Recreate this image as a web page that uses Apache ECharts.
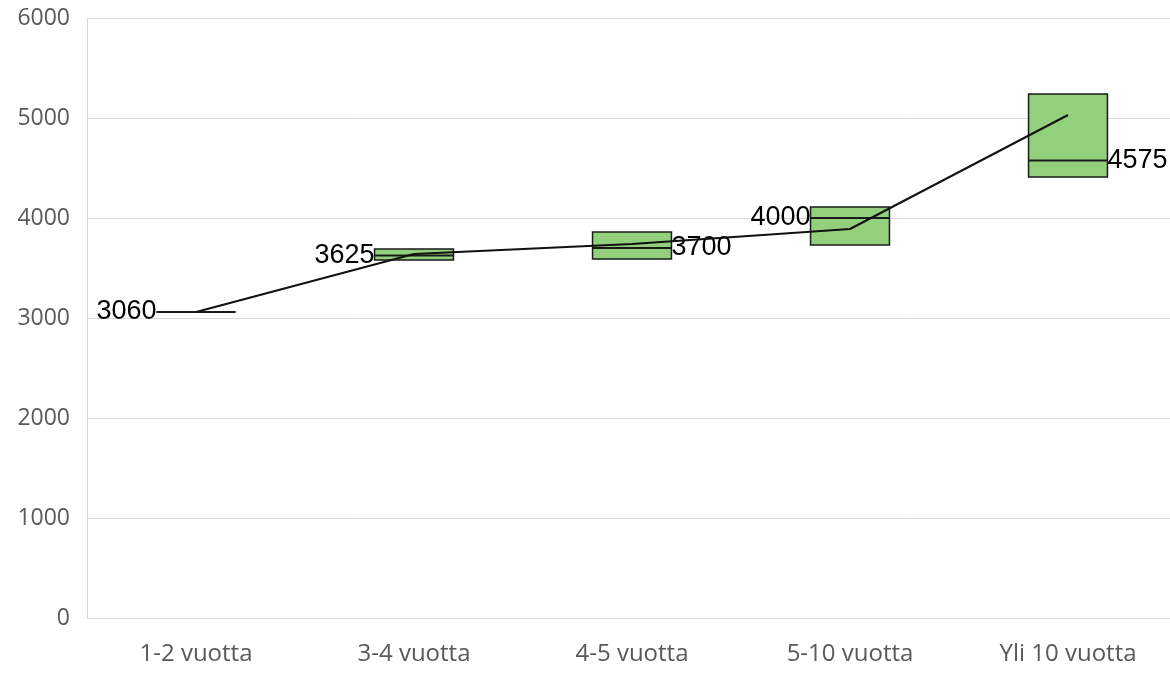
<!DOCTYPE html>
<html>
<head>
<meta charset="utf-8">
<script src="https://cdn.jsdelivr.net/npm/echarts@6/dist/echarts.min.js"></script>
<style>html,body{margin:0;padding:0;background:#fff;overflow:hidden}#c{width:1177px;height:673px}</style>
</head>
<body>
<div id="c"></div>
<script>
const categories = ['1-2 vuotta', '3-4 vuotta', '4-5 vuotta', '5-10 vuotta', 'Yli 10 vuotta'];
const q1Values = [3060, 3580, 3590, 3730, 4410];
const medianValues = [3060, 3625, 3700, 4000, 4575];
const q3Values = [3060, 3690, 3860, 4110, 5240];
const meanValues = [3060, 3640, 3740, 3890, 5030];
const yTicks = [0, 1000, 2000, 3000, 4000, 5000, 6000];

const labelSide = ['left', 'left', 'right', 'left', 'right'];

const boxData = categories.map((c, i) => [i, q1Values[i], medianValues[i], q3Values[i]]);

const chart = echarts.init(document.getElementById('c'));
chart.setOption({
  animation: false,
  grid: { left: 87, right: 0, top: 18, bottom: 55 },
  xAxis: {
    type: 'category',
    data: categories,
    axisLine: { show: true, lineStyle: { color: '#d9d9d9', width: 1 } },
    axisTick: { show: false },
    axisLabel: { color: '#595959', fontSize: 24, fontFamily: 'Open Sans', margin: 24 }
  },
  yAxis: {
    type: 'value',
    min: yTicks[0],
    max: yTicks[yTicks.length - 1],
    interval: 1000,
    axisLine: { show: true, lineStyle: { color: '#d9d9d9', width: 1 } },
    axisTick: { show: false },
    splitLine: { lineStyle: { color: '#d9d9d9', width: 1 } },
    axisLabel: { color: '#595959', fontSize: 23, fontFamily: 'Open Sans', margin: 17, formatter: v => String(v) }
  },
  series: [
    {
      type: 'custom',
      data: boxData,
      z: 2,
      renderItem: function (params, api) {
        const i = api.value(0);
        const pQ1 = api.coord([i, api.value(1)]);
        const pMed = api.coord([i, api.value(2)]);
        const pQ3 = api.coord([i, api.value(3)]);
        const w = api.size([1, 0])[0] * 0.362;
        const x0 = pMed[0] - w / 2;
        const side = labelSide[params.dataIndex];
        const children = [
          {
            type: 'rect',
            shape: { x: x0, y: pQ3[1], width: w, height: pQ1[1] - pQ3[1] },
            style: { fill: '#93d07c', stroke: '#1a1a1a', lineWidth: 1.5 }
          },
          {
            type: 'line',
            shape: { x1: x0, y1: pMed[1], x2: x0 + w, y2: pMed[1] },
            style: { stroke: '#1a1a1a', lineWidth: 1.8 }
          },
          {
            type: 'text',
            style: {
              x: side === 'left' ? x0 : x0 + w,
              y: pMed[1],
              text: String(api.value(2)),
              fill: '#000',
              fontSize: 27,
              fontFamily: 'Liberation Sans',
              align: side === 'left' ? 'right' : 'left',
              verticalAlign: 'middle'
            }
          }
        ];
        return { type: 'group', children: children };
      }
    },
    {
      type: 'line',
      data: meanValues,
      z: 3,
      symbol: 'none',
      lineStyle: { color: '#111', width: 2 }
    }
  ]
});
</script>
</body>
</html>
